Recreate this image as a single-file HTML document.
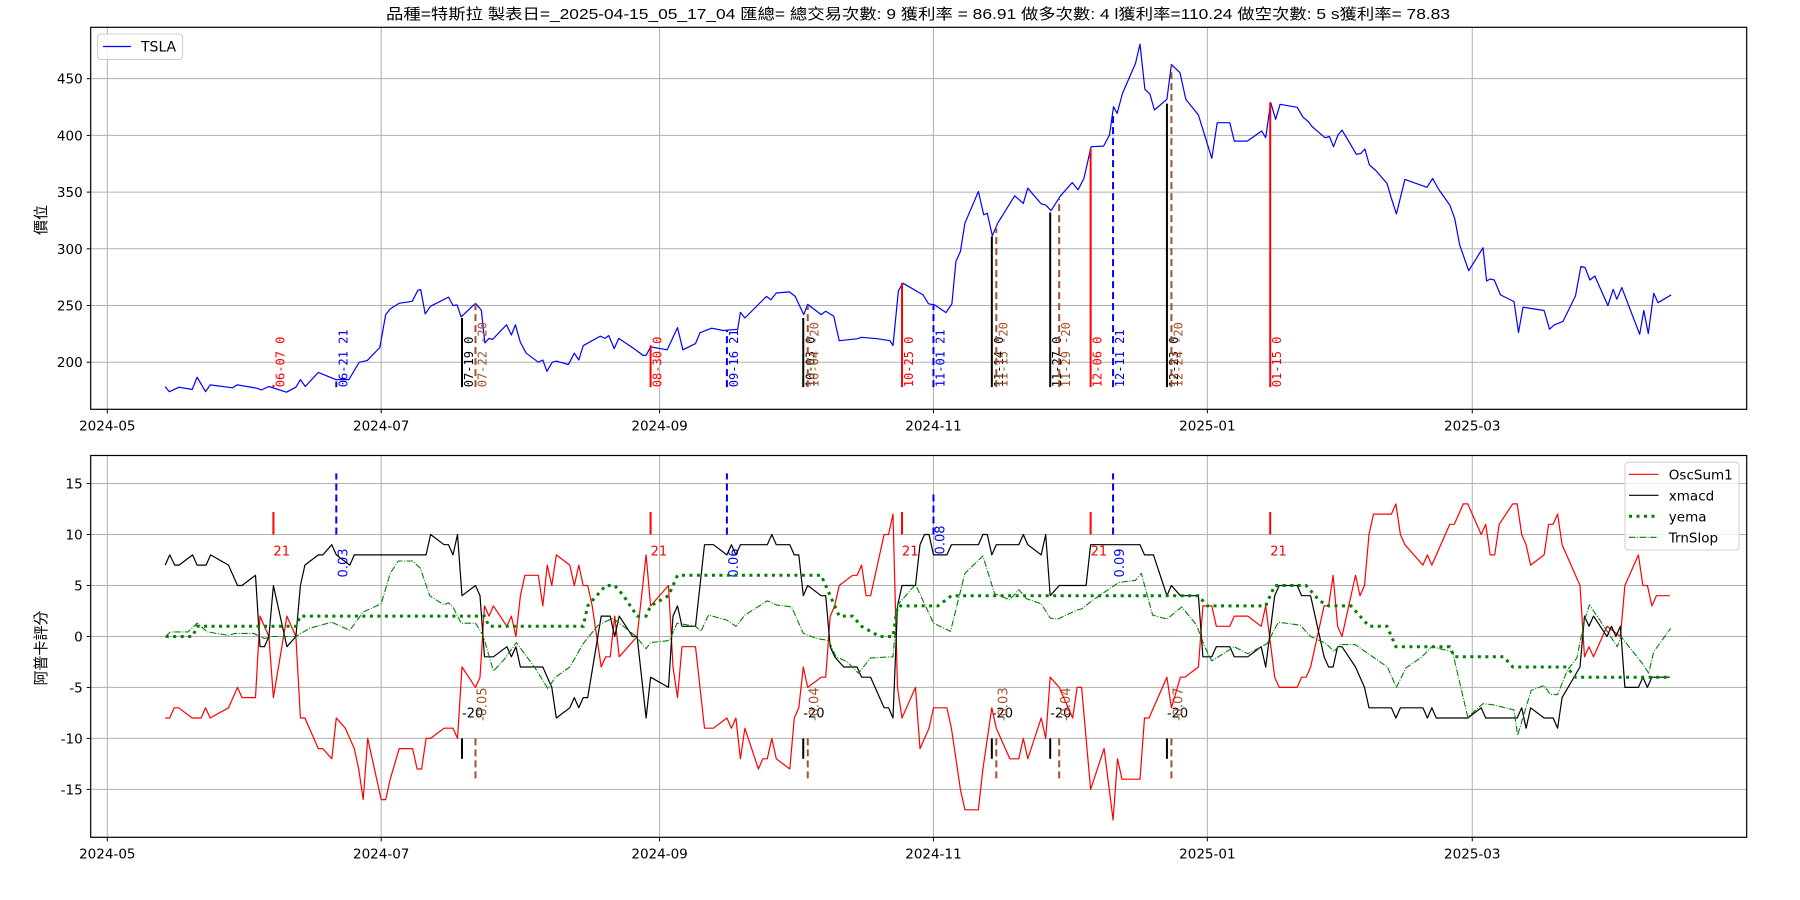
<!DOCTYPE html>
<html><head><meta charset="utf-8"><style>
html,body{margin:0;padding:0;background:#fff;}
svg{display:block;}
text{font-family:"DejaVu Sans","Liberation Sans","Noto Sans CJK TC",sans-serif;}
</style></head><body>
<svg id="chart" width="1800" height="900" viewBox="0 0 1800 900" xmlns="http://www.w3.org/2000/svg">
<rect x="0" y="0" width="1800" height="900" fill="#fff"/>
<text x="918" y="19" text-anchor="middle" font-size="15" textLength="1064" lengthAdjust="spacingAndGlyphs" style="font-family:'Liberation Sans','Noto Sans CJK TC',sans-serif">品種=特斯拉 製表日=_2025-04-15_05_17_04 匯總= 總交易次數: 9 獲利率 = 86.91 做多次數: 4 l獲利率=110.24 做空次數: 5 s獲利率= 78.83</text>
<text transform="translate(46,220) rotate(-90)" text-anchor="middle" font-size="15" style="font-family:'Noto Sans CJK TC',sans-serif">價位</text>
<text transform="translate(46,648) rotate(-90)" text-anchor="middle" font-size="15" style="font-family:'Noto Sans CJK TC',sans-serif">阿普卡評分</text>
<g id="top"></g>
<g id="bot"></g>
</svg>
<script>
// ---------- data ----------
const baseDate = "2024-05-01";
const xTickLabels = ["2024-05","2024-07","2024-09","2024-11","2025-01","2025-03"];
const xTickDates = ["2024-05-01","2024-07-01","2024-09-01","2024-11-01","2025-01-01","2025-03-01"];
const priceTicks = [200,250,300,350,400,450];
const scoreTicks = [-15,-10,-5,0,5,10,15];

const priceDays = [12.9,13.8,16,18.9,20,21.9,22.9,27.9,28.9,33.4,34.3,36,39.9,42,43,44.1,47,50.9,53.8,56.1,57.9,60.7,62,63,65,67.9,69.2,69.8,70.8,72,76,77,77.9,78.8,82,83.3,84.1,85,85.8,88.9,90,90.9,92,93.3,96,97,97.9,99.1,100,102.7,104,105,106,109.8,110.8,111.7,112.9,113.9,117.3,119.3,120,121,124.7,127,128.2,131,132,134.6,137.2,140.4,141,142,146.8,147.8,149,151.9,153.2,155.1,156,159,160,161.8,163,167,168,171.7,174.3,175,176.2,177.2,181.7,182.9,184.2,186.8,188.1,189,190,191,194,195.2,196,197.1,198.3,202.1,204,205,208,209,210.2,212.3,214.9,216.2,217.5,219.1,221.9,223.2,224.1,224.9,226.1,229,230,231.1,232.2,233.2,236,237,238.9,240.2,243,246,247.2,250,251,253.9,257.1,258,259.1,260.2,261.2,265,266.3,267.5,268.3,271.2,272.2,273.1,274.1,275,278.2,279.2,280.1,281.1,282.4,285,286,287.1,289,293.9,295.2,296.4,299,300.1,301.2,303.2,306.4,307.2,308,308.9,310.3,313.3,314.3,315.3,320,321.2,322.3,324.2,327,328.2,329.1,330.2,331.3,334.2,335.4,336.2,337.3,341.3,342.2,343.2,344.4,345.4,348.3];
const priceVals = [178.5,174,178,176,186.8,174,180,177.5,180,177,175.5,178.6,173.6,178,184.7,178.6,191,184.7,184.7,199.9,201.6,213,242,247,252,253.7,263.5,264,242.6,249.4,257.4,250,250.5,240,252,246,217,221,220,233,224,233,217.5,208,200,202,192,200,201,198,208,202,214.6,223,221,223.5,212,221,212,206,206,213.5,211,230.5,211,216.4,226,230,228,229,244,239,258,255,261,262,258,242,251,242,245,240.5,219,220.7,222,220.7,219,214.7,263,269.7,259.4,251.5,250.6,243.8,251.5,288.8,297.6,322.6,350.5,330,331.4,311.5,322.6,346.7,340,353.4,339.6,338.7,333.7,346.7,358.4,352,362,390,390.6,400.3,425.3,419.4,437,463.5,480.5,440.6,436.5,422.4,431.8,462.6,455.3,431.8,418,379.8,411.2,411.2,395,395,403.9,398,428.9,414.2,427.4,424.8,416,412.2,407.8,398,399,390,400.3,404.7,383.3,384.1,388,373.9,369.5,357.7,344.5,330.7,361.2,354.2,362,353.2,338.5,326.8,303.3,280.7,301,271.6,273.4,272.5,259.4,253.5,226.2,248.5,245.6,229.1,233,236,258.5,284.4,283.5,272.5,276,249.9,264.3,255.5,265.8,224.6,245.6,225.2,260.8,252.5,259.4];

// trade markers (top panel)
const tradeDates = ["2024-06-07","2024-06-21","2024-07-19","2024-07-22","2024-08-30","2024-09-16","2024-10-03","2024-10-04","2024-10-25","2024-11-01","2024-11-14","2024-11-15","2024-11-27","2024-11-29","2024-12-06","2024-12-11","2024-12-23","2024-12-24","2025-01-15"];
const tradeKinds = ["long","lexit","sexit","short","long","lexit","sexit","short","long","lexit","sexit","short","sexit","short","long","lexit","sexit","short","long"];
const tradeTops = [180,183,239,252,215,228,239,250,270,250,311,318,332,344,388,419,428,462,429];
const tradeLabels = ["06-07 0","06-21 21","07-19 0","07-22 -20","08-30 0","09-16 21","10-03 0","10-04 -20","10-25 0","11-01 21","11-14 0","11-15 -20","11-27 0","11-29 -20","12-06 0","12-11 21","12-23 0","12-24 -20","01-15 0"];
const tradeBase = 178;
// score-panel marker texts
const longScore = "21";
const shortScore = "-20";
const lexitVals = ["0.03","0.06","0.08","0.09"];
const lexitTops = [16,16,14,16];
const shortVals = ["-0.05","-0.04","-0.03","-0.04","-0.07"];

const oscDays = [12.9,13.9,14.9,15.9,18.9,20.9,21.9,22.9,27,29,30,33,34,36,37,40,42,43,44,47,48,50,51,53,54,55,56,57,58,61,62,63,65,68,69,70,71,72,75,77,78,79,82,83,84,85,86,89,90,91,92,93,96,97,98,99,100,103,104,105,106,107,108,110,111,112,113,114,118,120,121,125,126,127,128,131,133,135,138,139,140,141,142,145,146,147,148,149,152,153,154,155,156,159,160,161,162,163,166,167,168,169,170,173,174,175,176,177,180,181,183,184,187,188,190,191,194,195,197,198,201,203,204,205,208,209,210,212,215,216,217,219,222,224,225,226,230,231,232,236,237,239,240,243,244,246,247,250,251,254,257,258,260,261,265,266,267,268,271,272,273,274,275,278,279,280,281,282,286,287,288,289,293,294,295,299,300,302,303,306,307,308,309,310,313,314,315,316,317,320,321,322,323,324,328,329,330,331,334,337,338,341,342,343,344,345,348];
const oscVals = [-8,-8,-7,-7,-8,-8,-7,-8,-7,-5,-6,-6,2,0,-6,2,0,-8,-8,-11,-11,-12,-8,-9,-10,-11,-13,-16,-10,-16,-16,-14,-11,-11,-13,-13,-10,-10,-9,-9,-10,-3,-5,-4,3,2,3,1,2,0,4,6,6,3,7,5,8,7,5,7,5,5,3,-3,-2,-2,2,-2,0,8,3,5,-3,-6,-1,-1,-9,-9,-8,-9,-8,-12,-9,-13,-12,-12,-10,-12,-13,-8,-7,-3,-5,-4,-4,2,3,5,6,6,7,4,4,10,10,12,-5,-8,-5,-11,-9,-7,-7,-9,-15,-17,-17,-13,-7,-9,-12,-12,-10,-12,-8,-10,-4,-5,-8,-5,-5,-15,-11,-18,-12,-14,-14,-8,-8,-4,-7,-4,-4,-3,3,3,1,1,2,2,1,3,-4,-5,-5,-4,-4,-3,3,3,6,1,0,6,4,5,10,12,12,13,10,9,7,8,7,11,11,13,13,10,11,8,8,11,13,13,10,9,7,8,11,11,12,9,5,-2,-1,-2,1,0,5,8,5,5,3,4,4];

const macdDays = [12.9,13.9,15,16,19,20,22,23,27,29,30,33,34,35,36,37,40,42,43,44,47,48,50,51,54,55,71,72,75,76,77,78,79,82,83,84,86,89,90,91,92,97,99,100,103,104,105,106,107,110,112,113,114,117,118,120,121,125,126,127,128,131,133,135,138,139,140,141,147,148,149,152,153,154,155,156,159,160,161,162,164,167,168,170,173,174,175,176,177,180,181,182,183,184,187,188,194,195,196,197,198,203,204,205,208,209,210,212,218,219,230,231,233,236,237,239,243,244,246,247,250,251,254,257,258,260,261,265,266,268,271,272,273,274,275,278,280,281,286,287,288,293,294,295,296,303,306,307,314,315,316,317,320,322,323,324,328,329,330,331,334,335,336,337,338,341,342,343,344,348];
const macdVals = [7,8,7,7,8,7,7,8,7,5,5,6,-1,-1,0,5,-1,0,5,7,8,8,9,8,7,8,8,10,9,9,8,10,4,5,4,-2,-2,-1,-2,-1,-3,-3,-5,-8,-7,-6,-7,-6,-6,2,2,0,2,0,0,-8,-4,-5,2,3,1,1,9,9,8,9,8,9,9,10,9,9,8,8,4,5,4,4,-1,-2,-3,-3,-4,-4,-7,-7,-8,3,5,5,9,10,10,8,8,9,9,10,10,8,9,9,10,9,8,10,4,5,5,9,9,8,8,4,5,4,4,-2,-2,-1,-1,-2,-2,-1,-3,4,5,5,4,4,-2,-3,-3,-1,-1,-3,-5,-7,-7,-8,-7,-7,-8,-7,-8,-8,-7,-8,-8,-7,-9,-7,-8,-8,-9,-6,-3,2,1,2,0,1,0,1,-5,-5,-4,-5,-4,-4];

const yemaDays = [13,19,20,42,43,84,85,106,107,109,111,113,115,118,120,121,125,127,159,160,162,163,166,168,172,175,176,185,188,243,245,258,260,267,270,272,277,279,281,285,287,299,300,311,313,325,327,348];
const yemaVals = [0,0,1,1,2,2,1,1,3,4,5,5,4,2,2,3,4,6,6,5,3,2,2,1,0,0,3,3,4,4,3,3,5,5,3.5,3,3,2,1,1,-1,-1,-2,-2,-3,-3,-4,-4];

const trnDays = [13,14,18,20,22.3,27,28.5,32.6,35,36.8,42,45,50,54,57,61,63,64.8,68,69.7,71.8,75,76,77,78.8,82,83.7,86,88.3,91.1,95.3,98.1,99.8,103,106,109.3,112.6,117.5,120,121,125.2,126.9,131,132.2,133.9,138,140,142,147,149,152.4,155,158,160.7,162.3,164.8,167.3,170,175,176,180,184,187.8,191,195,197.6,201,203,204.7,208,210,211.7,216,217,219.6,225.3,229,230.3,232.8,236,239.3,242.6,244.4,246,251,254,258.3,260.8,265.7,268,271.5,273.2,274.5,277.9,280.9,285.1,287.1,289.2,292.8,295,299.6,303,306.4,308.6,313.3,314.1,317.1,320,321.4,323,325.2,327.3,329,330.1,332.4,336.3,337.1,341.8,343.3,344.4,348.2];
const trnVals = [0,0.45,0.45,1.3,0.45,0.1,0.3,0.3,-0.2,0,0,0.8,1.4,0.6,2.4,3.2,6.2,7.4,7.4,6.7,4,3.1,3.3,2.9,1.3,1.3,0.1,-3.4,-2.3,-0.6,-3.1,-5.1,-4,-3,-0.7,1.1,1.8,0.1,-1.2,-0.6,-0.4,1.3,1,0.5,2.1,1.6,1,2.1,3.5,3.1,2.9,0.3,-0.2,-0.4,-2,-2.5,-3.6,-2.1,-2,3.1,5.1,1.3,0.5,6.2,7.9,4.2,3.6,4.6,3.7,3.2,1.8,1.7,2.6,2.7,3.6,5.3,5.5,6.2,2.1,1.7,2.9,1.1,-1,-2.4,-1,-1.7,-0.7,1.4,1.1,0,-0.7,-1.5,-0.8,-0.8,-1.7,-3,-5,-3.1,-2,-1,-1.5,-7.9,-6.6,-6.7,-7.2,-9.7,-5.3,-4.8,-5.7,-5.7,-3.3,-2.1,1.6,3.1,1.6,-1,0,-2.6,-3.6,-1.5,0.8];

// ---------- scales ----------
const NS = "http://www.w3.org/2000/svg";
const L = 90.7, R = 1746.7;
const TP = {top:27.3, bot:409.3, min:158.5, max:495.3};
const BP = {top:455.5, bot:837.3, min:-19.7, max:17.75};
function dayOf(s){const p=s.split("-").map(Number);const b=baseDate.split("-").map(Number);return (Date.UTC(p[0],p[1]-1,p[2])-Date.UTC(b[0],b[1]-1,b[2]))/864e5;}
function xs(day){return 107.3 + 4.49*day;}
function yTop(v){return TP.bot - (v-TP.min)/(TP.max-TP.min)*(TP.bot-TP.top);}
function yBot(v){return BP.bot - (v-BP.min)/(BP.max-BP.min)*(BP.bot-BP.top);}
function mk(tag, attrs, parent){const e=document.createElementNS(NS,tag);for(const k in attrs)e.setAttribute(k,attrs[k]);parent.appendChild(e);return e;}

const topG = document.getElementById("top");
const botG = document.getElementById("bot");

function drawAxes(g, P, ys, ticks, name){
  // grid
  xTickDates.forEach((d,i)=>{
    const x = xs(dayOf(d));
    const gl = mk("line",{x1:x,x2:x,y1:P.top,y2:P.bot,stroke:"#b0b0b0","stroke-width":1},g);
    
    
    const tk = mk("line",{x1:x,x2:x,y1:P.bot,y2:P.bot+4,stroke:"#000","stroke-width":1},g);
    
    
    const t = mk("text",{x:x,y:P.bot+21,"text-anchor":"middle","font-size":"13.5"},g);
    t.textContent = xTickLabels[i];
    
    
  });
  ticks.forEach(v=>{
    const y = ys(v);
    const gl = mk("line",{x1:L,x2:R,y1:y,y2:y,stroke:"#b0b0b0","stroke-width":1},g);
    
    
    const tk = mk("line",{x1:L-4,x2:L,y1:y,y2:y,stroke:"#000","stroke-width":1},g);
    
    
    const t = mk("text",{x:L-8,y:y+5,"text-anchor":"end","font-size":"13.5"},g);
    t.textContent = String(v);
    
    
  });
}
function frame(g,P,name){
  const f = mk("rect",{x:L,y:P.top,width:R-L,height:P.bot-P.top,fill:"none",stroke:"#000","stroke-width":1.2},g);
  
  
}
function series(g, days, vals, ys, style, name){
  const pts = days.map((d,i)=>xs(d).toFixed(1)+","+ys(vals[i]).toFixed(1)).join(" ");
  const a = Object.assign({points:pts,fill:"none","stroke-linejoin":"round"}, style);
  const p = mk("polyline", a, g);
  
  
}

drawAxes(topG, TP, yTop, priceTicks, "price");
drawAxes(botG, BP, yBot, scoreTicks, "score");

// price line
series(topG, priceDays, priceVals, yTop, {stroke:"#0000ff","stroke-width":1.2}, "tsla-price-line");

// trade markers top
const kindColor = {long:"#ff0000", lexit:"#0000ff", sexit:"#000000", short:"#a0522d"};
tradeDates.forEach((d,i)=>{
  const k = tradeKinds[i], c = kindColor[k], x = xs(dayOf(d));
  const dashed = (k==="lexit"||k==="short");
  const ln = mk("line",{x1:x,x2:x,y1:yTop(tradeBase),y2:yTop(tradeTops[i]),stroke:c,"stroke-width":2,"stroke-dasharray":dashed?"7,4":"none"},topG);
  
  
  const t = mk("text",{transform:`translate(${(x+11).toFixed(1)},${yTop(tradeBase).toFixed(1)}) rotate(-90)`,fill:c,"font-size":"12",style:"font-family:'DejaVu Sans Mono',monospace"},topG);
  t.textContent = tradeLabels[i];
  
  
});

// score panel markers
let li = 0, si = 0;
tradeDates.forEach((d,i)=>{
  const k = tradeKinds[i], c = kindColor[k], x = xs(dayOf(d));
  let ln, t;
  if(k==="long"){
    ln = mk("line",{x1:x,x2:x,y1:yBot(10),y2:yBot(12.2),stroke:c,"stroke-width":2},botG);
    t = mk("text",{x:x,y:yBot(10)+21,fill:c,"font-size":"13"},botG);
    t.textContent = longScore;
  } else if(k==="lexit"){
    ln = mk("line",{x1:x,x2:x,y1:yBot(10),y2:yBot(lexitTops[li]),stroke:c,"stroke-width":2,"stroke-dasharray":"7,4"},botG);
    t = mk("text",{transform:`translate(${(x+11).toFixed(1)},${(yBot(10)+14).toFixed(1)}) rotate(-90)`,"text-anchor":"end",fill:c,"font-size":"13"},botG);
    if(li===2) t.setAttribute("transform",`translate(${(x+11).toFixed(1)},${(yBot(10)-9).toFixed(1)}) rotate(-90)`);
    t.textContent = lexitVals[li]; li++;
  } else if(k==="sexit"){
    ln = mk("line",{x1:x,x2:x,y1:yBot(-10),y2:yBot(-12),stroke:c,"stroke-width":2},botG);
    t = mk("text",{x:x,y:yBot(-10)-21,fill:c,"font-size":"13"},botG);
    t.textContent = shortScore;
  } else {
    ln = mk("line",{x1:x,x2:x,y1:yBot(-10),y2:yBot(-14),stroke:c,"stroke-width":2,"stroke-dasharray":"7,4"},botG);
    t = mk("text",{transform:`translate(${(x+11).toFixed(1)},${(yBot(-10)-51).toFixed(1)}) rotate(-90)`,"text-anchor":"end",fill:c,"font-size":"13"},botG);
    t.textContent = shortVals[si]; si++;
  }
  
  
  
  
});

// score series
series(botG, oscDays, oscVals, yBot, {stroke:"#ff0000","stroke-width":1.2}, "oscsum1-line");
series(botG, macdDays, macdVals, yBot, {stroke:"#000000","stroke-width":1.2}, "xmacd-line");
series(botG, yemaDays, yemaVals, yBot, {stroke:"#008000","stroke-width":3,"stroke-dasharray":"3,4.5","stroke-linejoin":"miter"}, "yema-line");
series(botG, trnDays, trnVals, yBot, {stroke:"#008000","stroke-width":1.1,"stroke-dasharray":"6.4,1.6,1,1.6"}, "trnslop-line");

frame(topG, TP, "price");
frame(botG, BP, "score");

// legends
const lg1 = mk("g",{},topG);


mk("rect",{x:97.6,y:34,width:85,height:25.5,rx:3,fill:"#fff","fill-opacity":0.8,stroke:"#cccccc"},lg1);
const l1 = mk("line",{x1:103,x2:131,y1:46.5,y2:46.5,stroke:"#0000ff","stroke-width":1.2},lg1);


const t1 = mk("text",{x:141,y:51.5,"font-size":"14"},lg1);
t1.textContent = "TSLA";



const lg2 = mk("g",{},botG);


mk("rect",{x:1625,y:462.3,width:114,height:87.7,rx:3,fill:"#fff","fill-opacity":0.8,stroke:"#cccccc"},lg2);
const legNames = ["OscSum1","xmacd","yema","TrnSlop"];
const legStyles = [{stroke:"#ff0000","stroke-width":1.2},{stroke:"#000","stroke-width":1.2},{stroke:"#008000","stroke-width":3,"stroke-dasharray":"3,4.5"},{stroke:"#008000","stroke-width":1.1,"stroke-dasharray":"6.4,1.6,1,1.6"}];
legNames.forEach((n,i)=>{
  const y = 474.3 + i*21;
  const s = mk("line",Object.assign({x1:1629,x2:1658.5,y1:y,y2:y},legStyles[i]),lg2);
  
  
  const t = mk("text",{x:1668.8,y:y+5,"font-size":"13.5"},lg2);
  t.textContent = n;
  
  
});
</script>
</body></html>
